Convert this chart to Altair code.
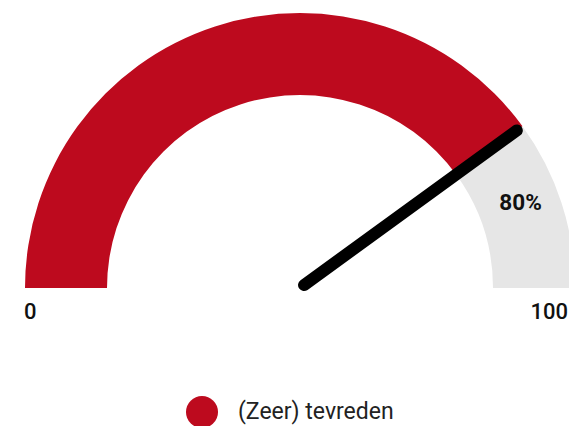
import altair as alt
import pandas as pd

# ---- data ----
segments = ["(Zeer) tevreden", "Overig"]
seg_start = [0, 80]
seg_end = [80, 100]
seg_colors = ["#BD0A1E", "#E6E6E6"]
gauge_value = [80]
value_labels = ["80%"]
tick_values = [0, 100]
tick_labels = ["0", "100"]

seg_df = pd.DataFrame({"series": segments, "start": seg_start, "end": seg_end})
needle_df = pd.DataFrame({"value": gauge_value})
label_df = pd.DataFrame({"value": gauge_value, "label": value_labels})
tick_df = pd.DataFrame({"value": tick_values, "label": tick_labels})

W, H = 561, 418
CX, CY = 292, 280
R_OUT, R_IN = 275, 193
TICK_R = 268

xs = alt.Scale(domain=[-CX, W - CX], range=[0, W], nice=False, zero=False)
ys = alt.Scale(domain=[-(H - CY), CY], range=[H, 0], nice=False, zero=False)

arcs = alt.Chart(seg_df).mark_arc(radius=R_OUT, radius2=R_IN).encode(
    theta=alt.Theta("start:Q", stack=False,
                    scale=alt.Scale(domain=[0, 100], range=[-1.5707963, 1.5707963])),
    theta2="end:Q",
    x=alt.datum(0, scale=xs, axis=None),
    y=alt.datum(0, scale=ys, axis=None),
    color=alt.Color("series:N",
                    scale=alt.Scale(domain=segments, range=seg_colors),
                    legend=alt.Legend(values=[segments[0]], title=None, orient="none",
                                      legendX=178, legendY=388,
                                      symbolType="circle", symbolSize=1024,
                                      symbolStrokeWidth=0,
                                      labelFont="Roboto", labelFontSize=23,
                                      labelColor="#222222", labelOffset=20,
                                      labelLimit=400)),
)

needle = alt.Chart(needle_df).transform_calculate(
    a="PI * (1 - datum.value / 100)",
).transform_calculate(
    nx1="5 * cos(datum.a)", ny1="5 * sin(datum.a)",
    nx2="268 * cos(datum.a)", ny2="268 * sin(datum.a)",
).mark_rule(color="black", strokeWidth=12, strokeCap="round").encode(
    x=alt.X("nx1:Q", scale=xs, axis=None),
    y=alt.Y("ny1:Q", scale=ys, axis=None),
    x2="nx2:Q",
    y2="ny2:Q",
)

value_text = alt.Chart(label_df).transform_calculate(
    a="PI * (1 - (datum.value + 100) / 200)",
).transform_calculate(
    lx="234 * cos(datum.a)", ly="234 * sin(datum.a)",
).mark_text(font="Roboto", fontSize=22.5, fontWeight="bold", color="#111111",
            baseline="alphabetic", align="center", dx=-2, dy=-6).encode(
    x=alt.X("lx:Q", scale=xs, axis=None),
    y=alt.Y("ly:Q", scale=ys, axis=None),
    text="label:N",
)

tick_base = alt.Chart(tick_df).transform_calculate(
    tx=f"datum.value == 0 ? {-R_OUT - 1} : {TICK_R}", ty="-24",
)
tick_left = tick_base.transform_filter("datum.value == 0").mark_text(
    font="Roboto", fontSize=22, fontWeight=500, color="#111111",
    align="left", baseline="middle").encode(
    x=alt.X("tx:Q", scale=xs, axis=None),
    y=alt.Y("ty:Q", scale=ys, axis=None),
    text="label:N",
)
tick_right = tick_base.transform_filter("datum.value == 100").mark_text(
    font="Roboto", fontSize=22, fontWeight=500, color="#111111",
    align="right", baseline="middle").encode(
    x=alt.X("tx:Q", scale=xs, axis=None),
    y=alt.Y("ty:Q", scale=ys, axis=None),
    text="label:N",
)

chart = alt.layer(arcs, needle, value_text, tick_left, tick_right).properties(
    width=W, height=H, autosize="none", padding=0,
).configure_view(stroke=None)

chart.save("out.html", embed_options={"renderer": "svg", "actions": False})
